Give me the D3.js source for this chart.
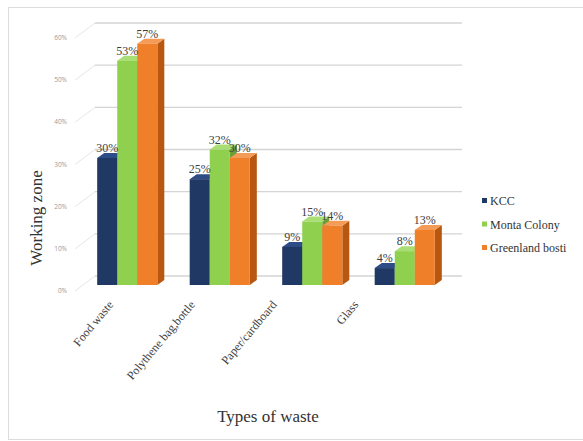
<!DOCTYPE html>
<html>
<head>
<meta charset="utf-8">
<script src="https://cdn.jsdelivr.net/npm/d3@7"></script>
<style>
    body { margin: 0; background: #fff; }
    svg { display: block; }
    .serif { font-family: "Liberation Serif", "Times New Roman", serif; }
</style>
</head>
<body>
<svg id="chart" width="583" height="441"></svg>
<script>
'use strict';

var categories = ["Food waste", "Polythene bag,bottle", "Paper/cardboard", "Glass"];
var seriesNames = ["KCC", "Monta Colony", "Greenland bosti"];
var kcc = [0.30, 0.25, 0.09, 0.04];
var monta = [0.53, 0.32, 0.15, 0.08];
var greenland = [0.57, 0.30, 0.14, 0.13];
var yTicks = [0, 0.1, 0.2, 0.3, 0.4, 0.5, 0.6];

var colors = {
    front: ["#203864", "#8fd14f", "#f07f2a"],
    side: ["#142647", "#6a9f38", "#b8570f"],
    top: ["#2e4c86", "#a9de74", "#f59b58"]
};

var svg = d3.select("#chart");
var values = [kcc, monta, greenland];

// frame
svg.append("rect")
    .attr("x", 8.5).attr("y", 7.5)
    .attr("width", 580).attr("height", 432)
    .attr("fill", "#fff")
    .attr("stroke", "#dcdcdc");

// wall depth (3d look)
var wallDx = 20, wallDy = -15;
var barDx = 7, barDy = -5;

var yFront = d3.scaleLinear().domain([0, 0.6]).range([291, 38]);
var yBar = d3.scaleLinear().domain([0, 0.6]).range([285, 31]);
var wallLeft = 75, wallRight = 462;

var x0 = d3.scaleBand().domain(categories).range([81, 451]).paddingInner(0.35).paddingOuter(0.175);
var x1 = d3.scaleBand().domain(d3.range(seriesNames.length)).range([0, x0.bandwidth()]);
var xLabel = d3.scalePoint().domain(categories).range([114, 359]);

// gridlines: left wall slant + back wall
var grid = svg.append("g").attr("class", "grid");
grid.selectAll("line.slant").data(yTicks).enter()
    .append("line")
    .attr("class", "slant")
    .attr("x1", wallLeft).attr("y1", function(d) { return yFront(d); })
    .attr("x2", wallLeft + wallDx).attr("y2", function(d) { return yFront(d) + wallDy; })
    .attr("stroke", "#e6e6e6").attr("stroke-width", 1);
grid.selectAll("line.back").data(yTicks).enter()
    .append("line")
    .attr("class", "back")
    .attr("x1", wallLeft + wallDx).attr("y1", function(d) { return yFront(d) + wallDy; })
    .attr("x2", wallRight).attr("y2", function(d) { return yFront(d) + wallDy; })
    .attr("stroke", "#d4d4d4").attr("stroke-width", 1.4);

// y tick labels
svg.append("g").selectAll("text").data(yTicks).enter()
    .append("text")
    .attr("x", 67).attr("y", function(d) { return yFront(d) + 2; })
    .attr("text-anchor", "end")
    .style("font-family", "'Open Sans', sans-serif")
    .style("font-size", "6.5px")
    .style("fill", "#9a9a9a")
    .text(function(d) { return Math.round(d * 100) + "%"; });

// bars
var bars = [];
categories.forEach(function(c, ci) {
    values.forEach(function(s, si) {
        bars.push({cat: c, s: si, v: s[ci]});
    });
});

var bar = svg.append("g").selectAll("g.bar").data(bars).enter()
    .append("g").attr("class", "bar");

function bx(d) { return x0(d.cat) + x1(d.s); }

bar.append("path")
    .attr("d", function(d) {
        var x = bx(d) + x1.bandwidth(), yt = yBar(d.v), yb = yBar(0);
        return "M" + x + "," + yt + "L" + (x + barDx) + "," + (yt + barDy) +
            "L" + (x + barDx) + "," + (yb + barDy) + "L" + x + "," + yb + "Z";
    })
    .attr("fill", function(d) { return colors.side[d.s]; });
bar.append("path")
    .attr("d", function(d) {
        var x = bx(d), w = x1.bandwidth(), yt = yBar(d.v);
        return "M" + x + "," + yt + "L" + (x + barDx) + "," + (yt + barDy) +
            "L" + (x + w + barDx) + "," + (yt + barDy) + "L" + (x + w) + "," + yt + "Z";
    })
    .attr("fill", function(d) { return colors.top[d.s]; });
bar.append("rect")
    .attr("x", bx)
    .attr("y", function(d) { return yBar(d.v); })
    .attr("width", x1.bandwidth())
    .attr("height", function(d) { return yBar(0) - yBar(d.v); })
    .attr("fill", function(d) { return colors.front[d.s]; });

// data labels
svg.append("g").selectAll("text").data(bars).enter()
    .append("text")
    .attr("class", "serif")
    .attr("x", function(d) { return bx(d) + x1.bandwidth() / 2; })
    .attr("y", function(d) { return yBar(d.v) - 6; })
    .attr("text-anchor", "middle")
    .style("font-size", "12px")
    .style("fill", "#404040")
    .text(function(d) { return Math.round(d.v * 100) + "%"; });

// category labels
svg.append("g").selectAll("text").data(categories).enter()
    .append("text")
    .attr("class", "serif")
    .attr("transform", function(d) { return "translate(" + xLabel(d) + ",305) rotate(-50)"; })
    .attr("text-anchor", "end")
    .style("font-size", "12px")
    .style("fill", "#404040")
    .text(function(d) { return d; });

// axis titles
svg.append("text")
    .attr("class", "serif")
    .attr("x", 268).attr("y", 422)
    .attr("text-anchor", "middle")
    .style("font-size", "17px")
    .style("fill", "#333")
    .text("Types of waste");
svg.append("text")
    .attr("class", "serif")
    .attr("transform", "translate(42,218) rotate(-90)")
    .attr("text-anchor", "middle")
    .style("font-size", "17px")
    .style("fill", "#333")
    .text("Working zone");

// legend
var legend = svg.append("g").selectAll("g").data(seriesNames).enter()
    .append("g")
    .attr("transform", function(d, i) { return "translate(482," + (201 + i * 23.5) + ")"; });
legend.append("rect")
    .attr("x", 0).attr("y", -3)
    .attr("width", 5).attr("height", 5)
    .attr("fill", function(d, i) { return colors.front[i]; });
legend.append("text")
    .attr("class", "serif")
    .attr("x", 8).attr("y", 4)
    .style("font-size", "12px")
    .style("fill", "#333")
    .text(function(d) { return d; });
</script>
</body>
</html>
